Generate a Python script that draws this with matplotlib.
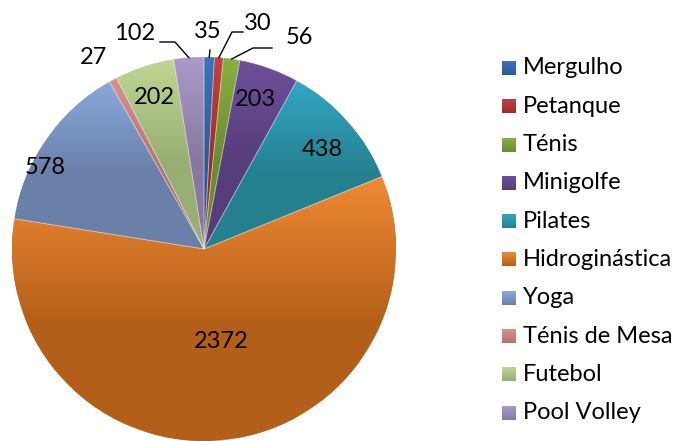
import matplotlib.pyplot as plt
import matplotlib.colors as mcolors
import numpy as np

# data
activities = ["Mergulho", "Petanque", "Ténis", "Minigolfe", "Pilates",
              "Hidroginástica", "Yoga", "Ténis de Mesa", "Futebol", "Pool Volley"]
participants = [35, 30, 56, 203, 438, 2372, 578, 27, 202, 102]

# gradient colours (top, bottom) per slice
light_colors = ["#3C73BC", "#C3423E", "#88B043", "#6E509A", "#33A7C6",
                "#F08A34", "#89A9DD", "#DA908E", "#BED791", "#AA9ACA"]
dark_colors = ["#2E5B96", "#972F2D", "#6A8C31", "#563D7B", "#24808F",
               "#B45F19", "#6B80A8", "#B07371", "#98AE74", "#8778A1"]

W, H = 681, 441
CX, CY, R = 204, 249, 192

# label layout in pixels (text centre), and leader line elbows
label_px = [(208, 32), (258, 23), (299, 37), (255, 100), (322, 150),
            (221, 341), (45, 167), (93, 58), (154, 98), (135, 34)]
leader_px = {0: [(210, 50)], 1: [(232, 32), (243, 32)], 2: [(253, 48), (272, 48)],
             9: [(175, 42), (160, 42)]}


def px(x, y):
    return (x - CX) / R, (CY - y) / R


def gradient_img(top, bottom, stop=0.55):
    frac = np.linspace(1, 0, 256)  # bottom (1) to top (0)
    mix = np.clip(frac / stop, 0, 1)[:, None]
    a = np.array(mcolors.to_rgb(top))
    b = np.array(mcolors.to_rgb(bottom))
    return (a * (1 - mix) + b * mix)[:, None, :]


def gradient_fill(ax, wedge, top, bottom):
    verts = wedge.get_path().vertices
    x0, x1 = verts[:, 0].min(), verts[:, 0].max()
    y0, y1 = verts[:, 1].min(), verts[:, 1].max()
    im = ax.imshow(gradient_img(top, bottom), extent=[x0, x1, y0, y1], origin="lower",
                   aspect="auto", zorder=2, interpolation="bilinear")
    im.set_clip_path(wedge)


fig = plt.figure(figsize=(W / 100, H / 100), dpi=100)
plt.rcParams["font.family"] = ["Lato", "DejaVu Sans"]
ax = fig.add_axes([(CX - R) / W, (H - CY - R) / H, 2 * R / W, 2 * R / H])
wedges, _ = ax.pie(participants, startangle=90, counterclock=False, radius=1,
                   colors=dark_colors, wedgeprops=dict(linewidth=0))
for w, top, bottom in zip(wedges, light_colors, dark_colors):
    gradient_fill(ax, w, top, bottom)
    ax.add_patch(plt.Polygon(w.get_path().vertices, closed=True, fill=False,
                             edgecolor=(1, 1, 1, 0.35), linewidth=0.6, zorder=3))
ax.set_xlim(-1, 1)
ax.set_ylim(-1, 1)
ax.set_aspect("equal")
ax.axis("off")

total = sum(participants)
cum = np.cumsum([0] + participants)
for i, v in enumerate(participants):
    tx, ty = px(*label_px[i])
    ax.text(tx, ty, str(v), ha="center", va="center", fontsize=17,
            color="black", zorder=5, clip_on=False)
    if i in leader_px:
        mid = np.deg2rad((cum[i] + v / 2) / total * 360)
        pts = [(np.sin(mid), np.cos(mid))] + [px(*p) for p in leader_px[i]]
        xs, ys = zip(*pts)
        ax.plot(xs, ys, color="black", linewidth=1, clip_on=False, zorder=5)

# legend
lax = fig.add_axes([0, 0, 1, 1])
lax.set_xlim(0, W)
lax.set_ylim(H, 0)
lax.axis("off")
for i, name in enumerate(activities):
    yc = 68 + i * 38.3
    lax.imshow(gradient_img(light_colors[i], dark_colors[i], stop=1.0),
               extent=[502, 516, yc + 7, yc - 7], origin="lower", aspect="auto",
               interpolation="bilinear")
    lax.text(523, yc, name, ha="left", va="center", fontsize=17, color="black")
lax.set_xlim(0, W)
lax.set_ylim(H, 0)

fig.savefig("out.png", dpi=100)
